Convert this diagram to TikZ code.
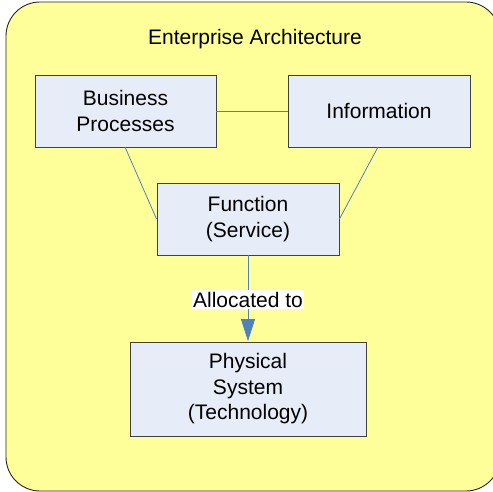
\documentclass[tikz,border=0pt]{standalone}
\usepackage{fontspec}
\setmainfont{Liberation Sans}
\usetikzlibrary{arrows.meta}
\definecolor{ylw}{HTML}{FFFF99}
\definecolor{boxfill}{HTML}{E6ECF8}
\definecolor{boxline}{HTML}{404040}
\definecolor{linkblue}{HTML}{4F81BD}
\begin{document}
\begin{tikzpicture}[x=1pt,y=-1pt,
  every node/.style={font=\fontsize{21}{25.5}\selectfont, text=black},
  block/.style={draw=boxline, line width=0.9pt, fill=boxfill, align=center, inner sep=0pt},
  link/.style={draw=linkblue, line width=0.8pt}]
\useasboundingbox (0,0) rectangle (493,492);
\draw[fill=ylw, draw=black!85, line width=0.9pt, rounded corners=34pt] (6,2) rectangle (500,491);
\node (title) at (255,39) {Enterprise Architecture};
\node[block, minimum width=181pt, minimum height=72pt] (bp) at (125.5,111) {Business\\Processes};
\node[block, minimum width=182pt, minimum height=72pt] (info) at (379,111) {Information};
\node[block, minimum width=182pt, minimum height=72pt] (fn) at (248,219) {Function\\(Service)};
\node[block, minimum width=236pt, minimum height=94pt] (ps) at (248,389) {Physical\\System\\(Technology)};
\coordinate (bpb) at (125,147);
\coordinate (infob) at (378,147);
\draw[link] (bp.east) -- (info.west);
\draw[link] (bpb) -- (fn.west);
\draw[link] (infob) -- (fn.east);
\draw[link, -{Triangle[length=22pt,width=14pt]}, shorten >=0.5pt] (fn.south) -- (ps.north)
  node[pos=0.5, fill=white, inner sep=1.5pt, yshift=-1pt] (lbl) {Allocated to};
\end{tikzpicture}
\end{document}
